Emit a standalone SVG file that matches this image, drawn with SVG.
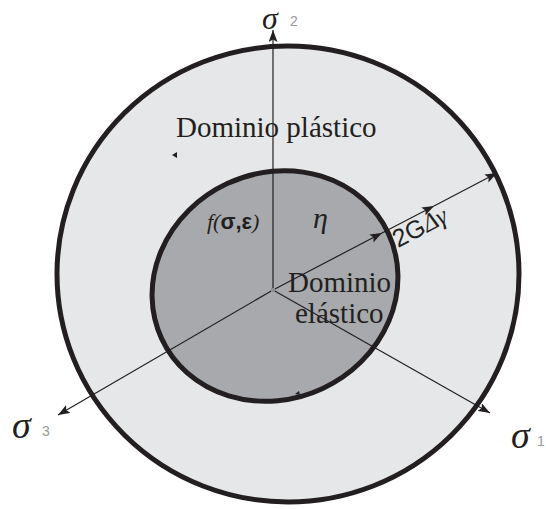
<svg xmlns="http://www.w3.org/2000/svg" width="546" height="509" viewBox="0 0 546 509">
<style>
.serif{font-family:"Liberation Serif","Times New Roman",serif;fill:#231f20}
.sans{font-family:"Liberation Sans",Arial,sans-serif;fill:#231f20}
.sig{font-family:"Liberation Serif","Times New Roman",serif;font-style:italic;font-size:38px;fill:#231f20}
.sub{font-family:"Liberation Sans",Arial,sans-serif;font-size:14px;fill:#9a9a9a}
.ax{stroke:#231f20;stroke-width:1.2;fill:none}
</style>
<defs>
<marker id="ah" markerUnits="userSpaceOnUse" markerWidth="12" markerHeight="9" refX="12" refY="4.5" orient="auto">
<path d="M0,0 L12,4.5 L0,9 L2.5,4.5 z" fill="#231f20"/>
</marker>
</defs>
<rect width="546" height="509" fill="#ffffff"/>
<g id="plastic-domain">
<ellipse cx="288" cy="274" rx="231" ry="228" fill="#e6e7e8" stroke="#231f20" stroke-width="5"/>
</g>
<g id="elastic-domain">
<ellipse cx="275" cy="286" rx="125" ry="113" transform="rotate(-25 275 286)" fill="#a7a9ac" stroke="#231f20" stroke-width="5"/>
</g>
<g id="connectors">
<line class="ax" x1="273" y1="290" x2="273" y2="30" stroke="#555" marker-end="url(#ah)"/>
<line class="ax" x1="273" y1="290" x2="58" y2="415" marker-end="url(#ah)"/>
<line class="ax" x1="273" y1="290" x2="490" y2="413" marker-end="url(#ah)"/>
<line class="ax" x1="273" y1="290" x2="382" y2="233" marker-end="url(#ah)"/>
<line class="ax" x1="382" y1="233" x2="434" y2="206" marker-end="url(#ah)"/>
<line class="ax" x1="434" y1="206" x2="497" y2="173" marker-end="url(#ah)"/>
<rect x="271" y="288" width="4" height="4" fill="#8a8c8f"/>
<path d="M172,155 L177,152 L177,158 z" fill="#231f20"/>
<path d="M295,394 L299,391 L300,395 z" fill="#231f20"/>
</g>
<g id="label-sigma2"><text class="sig" x="262" y="29" style="font-size:32px">σ</text><text class="sub" x="290" y="26">2</text></g>
<g id="label-sigma3"><text class="sig" x="12" y="438">σ</text><text class="sub" x="42" y="436">3</text></g>
<g id="label-sigma1"><text class="sig" x="511" y="448">σ</text><text class="sub" x="537" y="446">1</text></g>
<g id="label-plastic"><text class="serif" x="176" y="137" font-size="29">Dominio plástico</text></g>
<g id="label-elastic">
<text class="serif" x="288" y="292" font-size="29">Dominio</text>
<text class="serif" x="295" y="323" font-size="29">elástico</text>
</g>
<g id="label-f"><text x="207" y="229" font-size="22"><tspan class="serif" font-style="italic">f(</tspan><tspan class="sans" font-weight="bold">σ,ε</tspan><tspan class="serif" font-style="italic">)</tspan></text></g>
<g id="label-eta"><text class="serif" x="313" y="228" font-size="30" font-style="italic">η</text></g>
<g id="label-2g"><text x="398" y="248" font-size="25" transform="rotate(-27.6 398 248)"><tspan class="sans">2G</tspan><tspan class="serif" font-style="italic" fill="#333">Δγ</tspan></text></g>
</svg>
